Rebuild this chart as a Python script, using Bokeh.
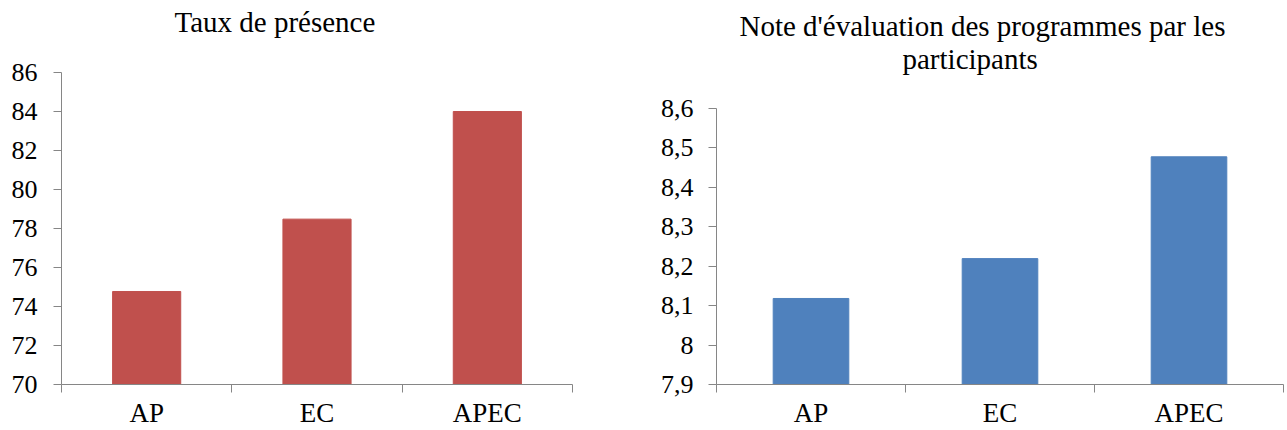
from bokeh.plotting import figure
from bokeh.layouts import row
from bokeh.models import Range1d, FixedTicker, Title
from bokeh.embed import file_html
from bokeh.resources import INLINE

categories = ["AP", "EC", "APEC"]
presence = [74.77, 78.48, 84.0]
evaluation = [8.118, 8.219, 8.477]
left_ticks = [70, 72, 74, 76, 78, 80, 82, 84, 86]
left_labels = ["70", "72", "74", "76", "78", "80", "82", "84", "86"]
right_ticks = [7.9, 8.0, 8.1, 8.2, 8.3, 8.4, 8.5, 8.6]
right_labels = ["7,9", "8", "8,1", "8,2", "8,3", "8,4", "8,5", "8,6"]

FONT = "Liberation Serif"
AXIS = "#868686"


def add_title(p, text, standoff, offset):
    t = Title(text=text, align="left", offset=offset, text_font=FONT, text_font_size="29px",
              text_font_style="normal", text_color="black", standoff=standoff,
              vertical_align="top")
    p.add_layout(t, "above")


def make(titles, values, ymin, ytop, bounds, ticks, labels, color, width, bl, br, ystand):
    p = figure(width=width, height=430, output_backend="svg", toolbar_location=None, title=None,
               x_range=Range1d(0, len(categories)), y_range=Range1d(ymin, ytop),
               min_border_left=bl, min_border_right=br, min_border_top=72, min_border_bottom=0)
    xs = [i + 0.5 for i in range(len(categories))]
    p.vbar(x=xs, top=values, bottom=ymin, width=0.4, fill_color=color, line_color=color)
    for text, standoff, offset in titles:
        add_title(p, text, standoff, offset)
    p.xgrid.visible = False
    p.ygrid.visible = False
    p.outline_line_color = None
    p.background_fill_color = "white"
    p.border_fill_color = "white"

    xa = p.xaxis[0]
    xa.ticker = FixedTicker(ticks=xs, minor_ticks=list(range(len(categories) + 1)))
    xa.major_label_overrides = {x: c for x, c in zip(xs, categories)}
    xa.major_tick_in = 0
    xa.major_tick_out = 8
    xa.major_tick_line_color = None
    xa.minor_tick_in = 0
    xa.minor_tick_out = 8
    xa.minor_tick_line_color = AXIS
    xa.axis_line_color = AXIS
    xa.major_label_text_font = FONT
    xa.major_label_text_font_size = "27px"
    xa.major_label_text_color = "black"
    xa.major_label_standoff = 5

    ya = p.yaxis[0]
    ya.ticker = FixedTicker(ticks=ticks, minor_ticks=[])
    ya.major_label_overrides = {t: l for t, l in zip(ticks, labels)}
    ya.bounds = bounds
    ya.major_tick_in = 0
    ya.major_tick_out = 8
    ya.major_tick_line_color = AXIS
    ya.minor_tick_line_color = None
    ya.axis_line_color = AXIS
    ya.major_label_text_font = FONT
    ya.major_label_text_font_size = "26px"
    ya.major_label_text_color = "black"
    ya.major_label_standoff = ystand
    return p


p1 = make([("Taux de présence\n", 2, 113)], presence, 70, 86, (70, 86),
          left_ticks, left_labels, "#C0504D", 630, 61, 58, 16)
p2 = make([("participants", -8, 186), ("Note d'évaluation des programmes par les", 6, 23)],
          evaluation, 7.9, 8.6906, (7.9, 8.6),
          right_ticks, right_labels, "#4F81BD", 657, 86, 4, 15)

layout = row(p1, p2)
open("out.html", "w").write(file_html(layout, INLINE))
